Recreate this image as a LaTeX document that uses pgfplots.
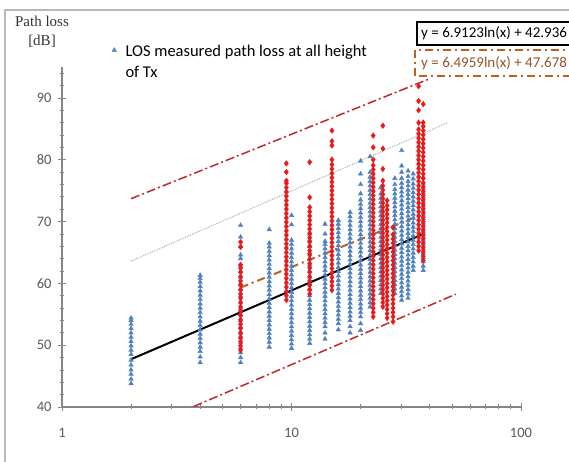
\documentclass[border=0pt]{standalone}
\usepackage{fontspec}
\setmainfont{Carlito}
\newfontfamily\seriffont{Liberation Serif}
\usepackage{pgfplots}
\pgfplotsset{compat=1.18}
\definecolor{ptblue}{RGB}{79,129,189}
\definecolor{ptred}{RGB}{235,25,25}
\definecolor{trbrown}{RGB}{192,96,32}
\definecolor{bndred}{RGB}{192,40,40}
\definecolor{dotgray}{RGB}{165,165,165}
\definecolor{axgray}{RGB}{134,134,134}
\definecolor{lblgray}{RGB}{89,89,89}
\definecolor{framegray}{RGB}{185,185,185}
\definecolor{eqbrown}{RGB}{150,85,45}
\begin{document}
\begin{tikzpicture}[x=1pt,y=1pt]
\useasboundingbox (0,0) rectangle (569,462);
\draw[framegray, line width=1.5pt] (5,-5) -- (5,452) -- (580,452);
\begin{axis}[
  at={(62pt,55pt)}, anchor=south west,
  scale only axis, width=459pt, height=340pt,
  xmode=log, log basis x=10,
  xmin=1, xmax=100, ymin=40, ymax=95,
  xtick={1,10,100}, xticklabels={1,10,100},
  minor xtick={2,3,4,5,6,7,8,9,20,30,40,50,60,70,80,90},
  ytick={40,50,60,70,80,90},
  minor ytick={42,44,46,48,52,54,56,58,62,64,66,68,72,74,76,78,82,84,86,88,92,94},
  axis x line=bottom, axis y line=left,
  axis line style={-, draw=axgray, line width=1.3pt},
  tick style={draw=axgray, line width=0.8pt},
  tick align=center,
  major tick length=8pt, minor tick length=5pt,
  tick label style={font=\fontsize{14.5}{14.5}\selectfont, text=lblgray},
  xticklabel style={yshift=-14pt},
  yticklabel style={xshift=-3pt},
  /pgf/number format/assume math mode=true,
  legend style={at={(0.102,1.085)}, anchor=north west, draw=none, fill=none,
    font=\fontsize{16.5}{20.5}\selectfont},
  legend cell align=left,
]
\addplot[only marks, mark=triangle*, mark size=2.6pt, color=ptblue] coordinates {
(2,43.8)(2,44.5)(2,45.3)(2,46.0)(2,46.8)(2,47.6)(2,48.5)(2,49.2)(2,49.9)(2,50.6)(2,51.3)(2,52.0)(2,52.7)(2,53.4)(2,54.0)(2,54.4)
(4,47.2)(4,48.1)(4,49.0)(4,49.7)(4,50.4)(4,51.1)(4,51.8)(4,52.5)(4,53.2)(4,53.9)(4,54.6)(4,55.3)(4,56.0)(4,56.7)(4,57.4)(4,58.1)(4,58.8)(4,59.5)(4,60.2)(4,60.8)(4,61.3)
(6,47.2)(6,48.0)(6,48.8)(6,49.6)(6,50.4)(6,51.2)(6,52.0)(6,53.0)(6,54.0)(6,55.0)(6,56.0)(6,57.0)(6,58.0)(6,59.0)(6,60.0)(6,61.0)(6,62.0)(6,63.0)(6,64.0)(6,64.6)(6,66.0)(6,67.5)(6,69.4)
(8,49.7)(8,50.5)(8,51.2)(8,51.9)(8,52.6)(8,53.3)(8,54.0)(8,54.7)(8,55.4)(8,56.1)(8,56.8)(8,57.5)(8,58.2)(8,58.9)(8,59.6)(8,60.3)(8,61.0)(8,61.7)(8,62.4)(8,63.1)(8,63.8)(8,64.5)(8,65.2)(8,65.9)(8,66.5)(8,68.7)
(10,49.5)(10,50.2)(10,50.9)(10,51.6)(10,52.3)(10,53.0)(10,53.7)(10,54.4)(10,55.1)(10,55.8)(10,56.5)(10,57.2)(10,57.9)(10,58.6)(10,59.3)(10,60.0)(10,60.7)(10,61.4)(10,62.1)(10,62.8)(10,63.5)(10,64.2)(10,64.9)(10,65.6)(10,66.3)(10,67.0)(10,69.5)(10,71.0)
(12,50.3)(12,51.0)(12,51.7)(12,52.4)(12,53.1)(12,53.8)(12,54.5)(12,55.2)(12,55.9)(12,56.6)(12,57.3)(12,58.0)(12,59.0)(12,60.0)(12,61.0)(12,62.0)(12,63.0)(12,64.0)(12,65.0)(12,66.0)(12,67.0)(12,68.0)
(14,51.0)(14,52.0)(14,53.0)(14,53.7)(14,54.4)(14,55.1)(14,55.8)(14,56.5)(14,57.2)(14,57.9)(14,58.6)(14,59.3)(14,60.0)(14,60.7)(14,61.4)(14,62.1)(14,62.8)(14,63.5)(14,64.2)(14,64.9)(14,65.6)(14,66.3)(14,66.8)(14,68.0)(14,69.6)
(16,52.5)(16,53.5)(16,54.2)(16,54.9)(16,55.6)(16,56.3)(16,57.0)(16,57.7)(16,58.4)(16,59.1)(16,59.8)(16,60.5)(16,61.2)(16,61.9)(16,62.6)(16,63.3)(16,64.0)(16,64.7)(16,65.4)(16,66.1)(16,66.8)(16,67.5)(16,68.2)(16,68.9)(16,69.6)(16,70.2)
(18,52.0)(18,53.0)(18,54.0)(18,54.7)(18,55.4)(18,56.1)(18,56.8)(18,57.5)(18,58.2)(18,58.9)(18,59.6)(18,60.3)(18,61.0)(18,61.7)(18,62.4)(18,63.1)(18,63.8)(18,64.5)(18,65.2)(18,65.9)(18,66.6)(18,67.3)(18,68.0)(18,68.7)(18,69.4)(18,70.1)(18,70.8)(18,71.5)
(20,52.4)(20,53.5)(20,54.6)(20,55.3)(20,56.0)(20,56.7)(20,57.4)(20,58.1)(20,58.8)(20,59.5)(20,60.2)(20,60.9)(20,61.6)(20,62.3)(20,63.0)(20,63.7)(20,64.4)(20,65.1)(20,65.8)(20,66.5)(20,67.2)(20,67.9)(20,68.6)(20,69.3)(20,70.0)(20,70.7)(20,71.4)(20,72.1)(20,72.8)(20,73.5)(20,74.5)(20,76.0)(20,77.7)(20,79.8)
(22,56.2)(22,56.9)(22,57.6)(22,58.3)(22,59.0)(22,59.7)(22,60.4)(22,61.1)(22,61.8)(22,62.5)(22,63.2)(22,63.9)(22,64.6)(22,65.3)(22,66.0)(22,66.7)(22,67.4)(22,68.1)(22,68.8)(22,69.5)(22,70.2)(22,70.9)(22,71.6)(22,72.3)(22,73.0)(22,73.7)(22,74.4)(22,75.1)(22,75.8)(22,76.5)(22,77.2)(22,78.0)(22,80.5)
(24.5,58.4)(24.5,59.1)(24.5,59.8)(24.5,60.5)(24.5,61.2)(24.5,61.9)(24.5,62.6)(24.5,63.3)(24.5,64.0)(24.5,64.7)(24.5,65.4)(24.5,66.1)(24.5,66.8)(24.5,67.5)(24.5,68.2)(24.5,68.9)(24.5,69.6)(24.5,70.3)(24.5,71.0)(24.5,71.7)(24.5,72.4)(24.5,73.1)(24.5,73.8)(24.5,74.5)(24.5,75.5)
(28.2,58.4)(28.2,59.1)(28.2,59.8)(28.2,60.5)(28.2,61.2)(28.2,61.9)(28.2,62.6)(28.2,63.3)(28.2,64.0)(28.2,64.7)(28.2,65.4)(28.2,66.1)(28.2,66.8)(28.2,67.5)(28.2,68.2)(28.2,68.9)(28.2,69.6)(28.2,70.3)(28.2,71.0)(28.2,71.7)(28.2,72.4)(28.2,73.1)(28.2,73.8)(28.2,74.5)(28.2,75.2)(28.2,76.0)(28.2,77.0)
(30.2,57.3)(30.2,58.0)(30.2,58.7)(30.2,59.4)(30.2,60.1)(30.2,60.8)(30.2,61.5)(30.2,62.2)(30.2,62.9)(30.2,63.6)(30.2,64.3)(30.2,65.0)(30.2,65.7)(30.2,66.4)(30.2,67.1)(30.2,67.8)(30.2,68.5)(30.2,69.2)(30.2,69.9)(30.2,70.6)(30.2,71.3)(30.2,72.0)(30.2,72.7)(30.2,73.4)(30.2,74.1)(30.2,74.8)(30.2,75.5)(30.2,76.2)(30.2,77.0)(30.2,78.0)(30.2,79.0)(30.2,81.5)
(32.2,57.6)(32.2,58.3)(32.2,59.0)(32.2,59.7)(32.2,60.4)(32.2,61.1)(32.2,61.8)(32.2,62.5)(32.2,63.2)(32.2,63.9)(32.2,64.6)(32.2,65.3)(32.2,66.0)(32.2,66.7)(32.2,67.4)(32.2,68.1)(32.2,68.8)(32.2,69.5)(32.2,70.2)(32.2,70.9)(32.2,71.6)(32.2,72.3)(32.2,73.0)(32.2,73.7)(32.2,74.4)(32.2,75.1)(32.2,75.8)(32.2,76.5)(32.2,77.3)(32.2,78.2)
(33.9,62.1)(33.9,62.8)(33.9,63.5)(33.9,64.2)(33.9,64.9)(33.9,65.6)(33.9,66.3)(33.9,67.0)(33.9,67.7)(33.9,68.4)(33.9,69.1)(33.9,69.8)(33.9,70.5)(33.9,71.2)(33.9,71.9)(33.9,72.6)(33.9,73.3)(33.9,74.0)(33.9,74.7)(33.9,75.4)(33.9,76.1)(33.9,76.9)(33.9,77.7)
(37.5,62.1)(37.5,62.8)(37.5,63.5)(37.5,64.2)(37.5,64.9)(37.5,65.6)(37.5,66.3)(37.5,67.0)(37.5,67.7)(37.5,68.4)(37.5,69.1)(37.5,69.8)(37.5,70.5)(37.5,71.2)(37.5,71.9)(37.5,72.6)(37.5,73.3)(37.5,74.0)(37.5,74.7)(37.5,75.4)(37.5,76.2)(37.5,77.1)
};
\addlegendentry{\begin{tabular}[t]{@{\hspace{7pt}}l@{}}LOS measured path loss at all height\\of Tx\end{tabular}}
\addplot[only marks, mark=diamond*, mark size=2.8pt, color=ptred, forget plot] coordinates {
(6,49.2)(6,49.9)(6,50.6)(6,51.3)(6,52.0)(6,52.7)(6,53.4)(6,54.1)(6,54.8)(6,55.5)(6,56.2)(6,56.9)(6,57.6)(6,58.3)(6,59.0)(6,59.7)(6,60.4)(6,61.1)(6,61.8)(6,62.5)(6,63.0)(6,65.9)(6,66.7)
(9.5,57.3)(9.5,58.0)(9.5,58.7)(9.5,59.4)(9.5,60.1)(9.5,60.8)(9.5,61.5)(9.5,62.2)(9.5,62.9)(9.5,63.6)(9.5,64.3)(9.5,65.0)(9.5,65.7)(9.5,66.4)(9.5,67.1)(9.5,67.8)(9.5,68.5)(9.5,69.2)(9.5,69.9)(9.5,70.6)(9.5,71.3)(9.5,72.0)(9.5,72.7)(9.5,73.4)(9.5,74.1)(9.5,74.8)(9.5,75.5)(9.5,76.2)(9.5,76.6)(9.5,78.0)(9.5,79.4)
(12,58.3)(12,59.0)(12,59.7)(12,60.4)(12,61.1)(12,61.8)(12,62.5)(12,63.2)(12,63.9)(12,64.6)(12,65.3)(12,66.0)(12,66.7)(12,67.4)(12,68.1)(12,68.8)(12,69.5)(12,70.2)(12,70.9)(12,71.6)(12,72.3)(12,73.9)(12,79.6)
(15,58.9)(15,59.6)(15,60.3)(15,61.0)(15,61.7)(15,62.4)(15,63.1)(15,63.8)(15,64.5)(15,65.2)(15,65.9)(15,66.6)(15,67.3)(15,68.0)(15,68.7)(15,69.4)(15,70.1)(15,70.8)(15,71.5)(15,72.2)(15,72.9)(15,73.6)(15,74.3)(15,75.0)(15,75.7)(15,76.4)(15,77.1)(15,77.8)(15,78.5)(15,79.2)(15,80.0)(15,82.3)(15,83.0)(15,84.7)
(22.7,54.6)(22.7,55.3)(22.7,56.0)(22.7,56.7)(22.7,57.4)(22.7,58.1)(22.7,58.8)(22.7,59.5)(22.7,60.2)(22.7,60.9)(22.7,61.6)(22.7,62.3)(22.7,63.0)(22.7,63.7)(22.7,64.4)(22.7,65.1)(22.7,65.8)(22.7,66.5)(22.7,67.2)(22.7,67.9)(22.7,68.6)(22.7,69.3)(22.7,70.0)(22.7,70.7)(22.7,71.4)(22.7,72.1)(22.7,72.8)(22.7,73.5)(22.7,74.2)(22.7,74.9)(22.7,75.6)(22.7,76.3)(22.7,77.0)(22.7,77.7)(22.7,78.4)(22.7,79.1)(22.7,80.0)(22.7,82.0)(22.7,83.9)
(25,56.2)(25,56.9)(25,57.6)(25,58.3)(25,59.0)(25,59.7)(25,60.4)(25,61.1)(25,61.8)(25,62.5)(25,63.2)(25,63.9)(25,64.6)(25,65.3)(25,66.0)(25,66.7)(25,67.4)(25,68.1)(25,68.8)(25,69.5)(25,70.2)(25,70.9)(25,71.6)(25,72.3)(25,73.0)(25,73.7)(25,74.4)(25,75.1)(25,75.8)(25,76.6)(25,78.5)(25,81.8)(25,85.5)
(26.1,54.4)(26.1,55.1)(26.1,55.8)(26.1,56.5)(26.1,57.2)(26.1,57.9)(26.1,58.6)(26.1,59.3)(26.1,60.0)(26.1,60.7)(26.1,61.4)(26.1,62.1)(26.1,62.8)(26.1,63.5)(26.1,64.2)(26.1,64.9)(26.1,65.6)(26.1,66.3)(26.1,67.0)(26.1,67.7)(26.1,68.4)(26.1,69.1)(26.1,69.8)(26.1,70.5)(26.1,71.2)(26.1,71.9)(26.1,72.6)(26.1,73.4)
(27.7,53.8)(27.7,54.6)(27.7,55.3)(27.7,56.0)(27.7,56.7)(27.7,57.4)(27.7,58.1)(27.7,58.8)(27.7,59.5)(27.7,60.2)(27.7,60.9)(27.7,61.6)(27.7,62.3)(27.7,63.0)(27.7,63.7)(27.7,64.4)(27.7,65.1)(27.7,65.8)(27.7,66.5)(27.7,67.2)(27.7,67.9)(27.7,69.0)
(35.8,65.3)(35.8,66.0)(35.8,66.7)(35.8,67.4)(35.8,68.1)(35.8,68.8)(35.8,69.5)(35.8,70.2)(35.8,70.9)(35.8,71.6)(35.8,72.3)(35.8,73.0)(35.8,73.7)(35.8,74.4)(35.8,75.1)(35.8,75.8)(35.8,76.5)(35.8,77.2)(35.8,77.9)(35.8,78.6)(35.8,79.3)(35.8,80.0)(35.8,80.7)(35.8,81.4)(35.8,82.1)(35.8,82.8)(35.8,83.5)(35.8,84.2)(35.8,84.9)(35.8,86.0)(35.8,88.0)(35.8,89.5)(35.8,91.9)
(37.5,63.7)(37.5,64.4)(37.5,65.1)(37.5,65.8)(37.5,66.5)(37.5,67.2)(37.5,67.9)(37.5,68.6)(37.5,69.3)(37.5,70.0)(37.5,70.7)(37.5,71.4)(37.5,72.1)(37.5,72.8)(37.5,73.5)(37.5,74.2)(37.5,74.9)(37.5,75.6)(37.5,76.3)(37.5,77.0)(37.5,77.7)(37.5,78.4)(37.5,79.1)(37.5,79.8)(37.5,80.5)(37.5,81.2)(37.5,81.9)(37.5,82.6)(37.5,83.3)(37.5,84.0)(37.5,84.7)(37.5,85.4)(37.5,86.0)(37.5,89.0)
};
% bounds and trend lines
\addplot[dotgray, line width=0.9pt, densely dotted, forget plot] coordinates {(2,63.6)(48,86.0)};
\addplot[bndred, line width=1.5pt, dash pattern=on 9pt off 3pt on 2pt off 3pt, forget plot] coordinates {(2,73.7)(40,93.1)};
\addplot[bndred, line width=1.5pt, dash pattern=on 9pt off 3pt on 2pt off 3pt, forget plot] coordinates {(2,35.74)(52,58.25)};
\addplot[black, line width=2pt, forget plot] coordinates {(2,47.73)(38,68.08)};
\addplot[trbrown, line width=2pt, dash pattern=on 8pt off 4pt on 2pt off 4pt, forget plot] coordinates {(6,59.32)(38,71.31)};
\end{axis}
\node[font=\seriffont\fontsize{15}{15}\selectfont, text=black!80] at (42,441) {Path loss};
\node[font=\seriffont\fontsize{15}{15}\selectfont, text=black!80] at (42,421) {[dB]};
\draw[black, line width=1.6pt] (417,417) rectangle (575,440);
\node[anchor=west, inner sep=0pt, font=\fontsize{15}{15}\selectfont] at (421,428.5) {y = 6.9123ln(x) + 42.936};
\draw[trbrown, line width=2pt, dash pattern=on 8pt off 4pt on 2pt off 4pt] (415,386) rectangle (575,412);
\node[anchor=west, inner sep=0pt, font=\fontsize{15}{15}\selectfont, text=eqbrown] at (421,399) {y = 6.4959ln(x) + 47.678};
\end{tikzpicture}
\end{document}
